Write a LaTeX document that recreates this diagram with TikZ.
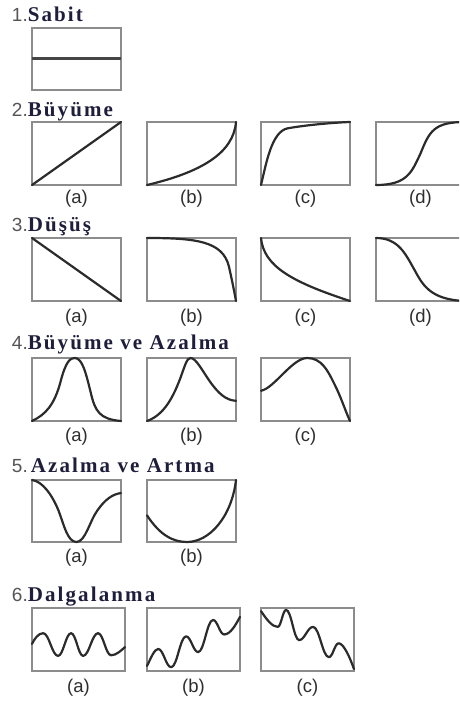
\documentclass[tikz,border=0pt]{standalone}
\usepackage{fontspec}
\newfontfamily\numfont{Liberation Sans}
\newfontfamily\titlefont[LetterSpace=10]{Liberation Serif}
\definecolor{boxgray}{HTML}{8C8C8C}
\definecolor{curvegray}{HTML}{2B2B2B}
\definecolor{flatgray}{HTML}{454545}
\definecolor{numgray}{HTML}{555555}
\definecolor{titlenavy}{HTML}{1E1E3C}
\definecolor{labelgray}{HTML}{2E2E2E}
\tikzset{
  framebox/.style={draw=boxgray, line width=1.4pt},
  crv/.style={draw=curvegray, line width=2.2pt, line cap=round, line join=round},
  flatline/.style={draw=flatgray, line width=3pt},
  ttl/.style={anchor=base west, inner sep=0pt, outer sep=0pt},
  lbl/.style={anchor=center, inner sep=0pt, text=labelgray, font=\numfont\fontsize{18.5}{21}\selectfont},
}
\newcommand{\ttltext}[2]{{\color{numgray}\numfont\fontsize{19}{22}\selectfont #1}{\color{titlenavy}\titlefont\bfseries\fontsize{21}{24}\selectfont #2}}
\begin{document}
\begin{tikzpicture}[x=1pt,y=-1pt]
\clip (0,0) rectangle (459,703);
\fill[white] (0,0) rectangle (459,703);

% ---------- Row 1 ----------
\node[ttl] (t1) at (12,22) {\ttltext{1.}{Sabit}};
\begin{scope}[shift={(32pt,-90pt)}, x=89pt, y=62pt]
  \draw[framebox] (0,0) rectangle (1,1);
  \draw[flatline] (0,0.5) -- (1,0.5);
\end{scope}

% ---------- Row 2 ----------
\node[ttl] (t2) at (12,117) {\ttltext{2.}{Büyüme}};
\begin{scope}[shift={(32pt,-185pt)}, x=89pt, y=63pt]
  \draw[framebox] (0,0) rectangle (1,1);
  \draw[crv] (0,0) -- (1,1);
\end{scope}
\begin{scope}[shift={(147pt,-185pt)}, x=89pt, y=63pt]
  \draw[framebox] (0,0) rectangle (1,1);
  \draw[crv] (0,0) .. controls (0.6,0.2) and (0.97,0.5) .. (1,1);
\end{scope}
\begin{scope}[shift={(261pt,-185pt)}, x=89pt, y=63pt]
  \draw[framebox] (0,0) rectangle (1,1);
  \draw[crv] (0,0) .. controls (0.06,0.35) and (0.12,0.85) .. (0.3,0.9)
             .. controls (0.5,0.95) and (0.8,0.99) .. (1,1);
\end{scope}
\begin{scope}[shift={(376pt,-185pt)}, x=89pt, y=63pt]
  \draw[framebox] (0,0) rectangle (1,1);
  \draw[crv] (0,0) .. controls (0.35,0) and (0.4,0.2) .. (0.5,0.5)
             .. controls (0.6,0.85) and (0.65,1) .. (1,1);
\end{scope}
\node[lbl] (l2a) at (76.5,199) {(a)};
\node[lbl] (l2b) at (191.5,199) {(b)};
\node[lbl] (l2c) at (305.5,199) {(c)};
\node[lbl] (l2d) at (420.5,199) {(d)};

% ---------- Row 3 ----------
\node[ttl] (t3) at (12,232) {\ttltext{3.}{Düşüş}};
\begin{scope}[shift={(32pt,-301pt)}, x=89pt, y=63pt]
  \draw[framebox] (0,0) rectangle (1,1);
  \draw[crv] (0,1) -- (1,0);
\end{scope}
\begin{scope}[shift={(147pt,-301pt)}, x=89pt, y=63pt]
  \draw[framebox] (0,0) rectangle (1,1);
  \draw[crv] (0,1) .. controls (0.55,1) and (0.85,0.95) .. (0.92,0.55)
             .. controls (0.96,0.3) and (0.98,0.15) .. (1,0);
\end{scope}
\begin{scope}[shift={(261pt,-301pt)}, x=89pt, y=63pt]
  \draw[framebox] (0,0) rectangle (1,1);
  \draw[crv] (0,1) .. controls (0.03,0.55) and (0.35,0.3) .. (1,0);
\end{scope}
\begin{scope}[shift={(376pt,-301pt)}, x=89pt, y=63pt]
  \draw[framebox] (0,0) rectangle (1,1);
  \draw[crv] (0,1) .. controls (0.25,1) and (0.33,0.75) .. (0.43,0.5)
             .. controls (0.52,0.27) and (0.6,0.02) .. (1,0);
\end{scope}
\node[lbl] (l3a) at (76.5,318) {(a)};
\node[lbl] (l3b) at (191.5,318) {(b)};
\node[lbl] (l3c) at (305.5,318) {(c)};
\node[lbl] (l3d) at (420.5,318) {(d)};

% ---------- Row 4 ----------
\node[ttl] (t4) at (12,349) {\ttltext{4.}{Büyüme ve Azalma}};
\begin{scope}[shift={(32pt,-421pt)}, x=89pt, y=63pt]
  \draw[framebox] (0,0) rectangle (1,1);
  \draw[crv] (0,0) .. controls (0.15,0.1) and (0.25,0.25) .. (0.32,0.62)
             .. controls (0.38,0.95) and (0.43,1) .. (0.48,1)
             .. controls (0.56,1) and (0.6,0.8) .. (0.66,0.45)
             .. controls (0.71,0.15) and (0.76,0.03) .. (1,0);
\end{scope}
\begin{scope}[shift={(147pt,-421pt)}, x=89pt, y=63pt]
  \draw[framebox] (0,0) rectangle (1,1);
  \draw[crv] (0,0) .. controls (0.2,0.1) and (0.3,0.4) .. (0.38,0.7)
             .. controls (0.43,0.9) and (0.45,1) .. (0.49,1)
             .. controls (0.55,1) and (0.62,0.8) .. (0.72,0.6)
             .. controls (0.8,0.45) and (0.88,0.33) .. (1,0.32);
\end{scope}
\begin{scope}[shift={(261pt,-421pt)}, x=89pt, y=63pt]
  \draw[framebox] (0,0) rectangle (1,1);
  \draw[crv] (0,0.48) .. controls (0.15,0.52) and (0.35,1) .. (0.52,1)
             .. controls (0.68,1) and (0.75,0.8) .. (0.82,0.6)
             .. controls (0.9,0.38) and (0.95,0.15) .. (1,0);
\end{scope}
\node[lbl] (l4a) at (76.5,437) {(a)};
\node[lbl] (l4b) at (191.5,437) {(b)};
\node[lbl] (l4c) at (305.5,437) {(c)};

% ---------- Row 5 ----------
\node[ttl] (t5) at (12,472) {\ttltext{5.\hspace{3pt}}{Azalma ve Artma}};
\begin{scope}[shift={(32pt,-542pt)}, x=89pt, y=62pt]
  \draw[framebox] (0,0) rectangle (1,1);
  \draw[crv] (0,1) .. controls (0.12,0.98) and (0.23,0.75) .. (0.3,0.5)
             .. controls (0.36,0.27) and (0.4,0) .. (0.5,0)
             .. controls (0.6,0) and (0.65,0.35) .. (0.74,0.52)
             .. controls (0.82,0.68) and (0.9,0.77) .. (1,0.79);
\end{scope}
\begin{scope}[shift={(147pt,-542pt)}, x=89pt, y=62pt]
  \draw[framebox] (0,0) rectangle (1,1);
  \draw[crv] (0,0.43) .. controls (0.15,0.1) and (0.3,0) .. (0.45,0)
             .. controls (0.7,0) and (0.95,0.4) .. (1,1);
\end{scope}
\node[lbl] (l5a) at (76.5,558) {(a)};
\node[lbl] (l5b) at (191.5,558) {(b)};

% ---------- Row 6 ----------
\node[ttl] (t6) at (12,601) {\ttltext{6.}{Dalgalanma}};
\begin{scope}[shift={(32pt,-671pt)}, x=93pt, y=63pt]
  \draw[framebox] (0,0) rectangle (1,1);
  \draw[crv] (0,0.43) .. controls (0.03,0.52) and (0.07,0.6) .. (0.12,0.6)
             .. controls (0.184,0.6) and (0.216,0.24) .. (0.28,0.24)
             .. controls (0.336,0.24) and (0.364,0.6) .. (0.42,0.6)
             .. controls (0.472,0.6) and (0.498,0.24) .. (0.55,0.24)
             .. controls (0.614,0.24) and (0.646,0.6) .. (0.71,0.6)
             .. controls (0.766,0.6) and (0.794,0.25) .. (0.85,0.25)
             .. controls (0.91,0.25) and (0.96,0.33) .. (1,0.38);
\end{scope}
\begin{scope}[shift={(147pt,-671pt)}, x=93pt, y=63pt]
  \draw[framebox] (0,0) rectangle (1,1);
  \draw[crv] (0,0.08) .. controls (0.04,0.2) and (0.08,0.35) .. (0.12,0.35)
             .. controls (0.176,0.35) and (0.204,0.06) .. (0.26,0.06)
             .. controls (0.324,0.06) and (0.356,0.55) .. (0.42,0.55)
             .. controls (0.472,0.55) and (0.498,0.30) .. (0.55,0.30)
             .. controls (0.614,0.30) and (0.646,0.81) .. (0.71,0.81)
             .. controls (0.758,0.81) and (0.782,0.58) .. (0.83,0.58)
             .. controls (0.9,0.58) and (0.96,0.75) .. (1,0.86);
\end{scope}
\begin{scope}[shift={(261pt,-671pt)}, x=93pt, y=63pt]
  \draw[framebox] (0,0) rectangle (1,1);
  \draw[crv] (0,0.95) .. controls (0.06,0.82) and (0.12,0.70) .. (0.18,0.70)
             .. controls (0.216,0.70) and (0.234,0.97) .. (0.27,0.97)
             .. controls (0.326,0.97) and (0.354,0.49) .. (0.41,0.49)
             .. controls (0.47,0.49) and (0.5,0.70) .. (0.56,0.70)
             .. controls (0.628,0.70) and (0.662,0.22) .. (0.73,0.22)
             .. controls (0.772,0.22) and (0.793,0.44) .. (0.835,0.44)
             .. controls (0.89,0.44) and (0.96,0.2) .. (1,0.03);
\end{scope}
\node[lbl] (l6a) at (78.5,688) {(a)};
\node[lbl] (l6b) at (193.5,688) {(b)};
\node[lbl] (l6c) at (307.5,688) {(c)};
\end{tikzpicture}
\end{document}
